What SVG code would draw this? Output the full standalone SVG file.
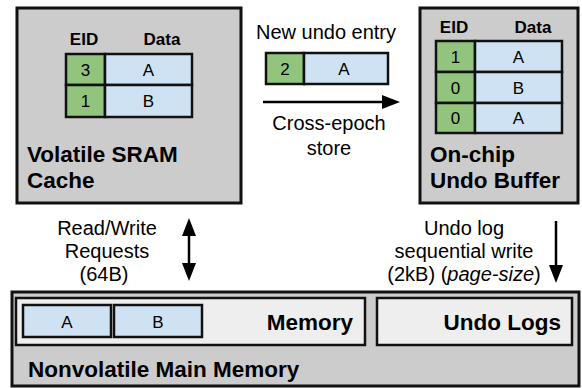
<svg xmlns="http://www.w3.org/2000/svg" width="582" height="388" viewBox="0 0 582 388">
  <defs>
    <style>
      text { font-family: "Liberation Sans", Arial, Helvetica, sans-serif; fill: #000; }
      .box { fill: #cccccc; stroke: #111; stroke-width: 3; }
      .inner { fill: #eeeeee; stroke: #111; stroke-width: 2.5; }
      .eid { fill: #93c47d; stroke: #111; stroke-width: 2.5; }
      .dat { fill: #cfe2f3; stroke: #111; stroke-width: 2.5; }
      .title { font-size: 22.5px; font-weight: bold; }
      .hdr { font-size: 17px; font-weight: bold; text-anchor: middle; }
      .cell { font-size: 17px; text-anchor: middle; }
      .lbl { font-size: 20px; text-anchor: middle; }
      .conn { stroke: #000; stroke-width: 2.5; fill: none; }
      .head { fill: #000; stroke: none; }
    </style>
    <path id="ah" d="M0,0 L-18,-7 L-18,7 Z"/>
  </defs>

  <g id="sram-cache">
    <rect class="box" x="17" y="8" width="224" height="195"/>
    <text class="hdr" x="84" y="45">EID</text>
    <text class="hdr" x="162" y="45">Data</text>
    <rect class="eid" x="66" y="54" width="39" height="31"/>
    <rect class="dat" x="105" y="54" width="87" height="31"/>
    <rect class="eid" x="66" y="85" width="39" height="32"/>
    <rect class="dat" x="105" y="85" width="87" height="32"/>
    <text class="cell" x="85.5" y="76">3</text>
    <text class="cell" x="148.5" y="76">A</text>
    <text class="cell" x="85.5" y="107">1</text>
    <text class="cell" x="148.5" y="107">B</text>
    <text class="title" x="27" y="162">Volatile SRAM</text>
    <text class="title" x="27" y="188">Cache</text>
  </g>

  <g id="new-undo-entry">
    <text class="lbl" x="326" y="39">New undo entry</text>
    <rect class="eid" x="266" y="53" width="38" height="31"/>
    <rect class="dat" x="304" y="53" width="84" height="31"/>
    <text class="cell" x="285" y="75">2</text>
    <text class="cell" x="344" y="75">A</text>
  </g>

  <g id="undo-buffer">
    <rect class="box" x="420" y="8" width="158" height="195"/>
    <text class="hdr" x="454" y="33">EID</text>
    <text class="hdr" x="533" y="33">Data</text>
    <rect class="eid" x="436" y="41" width="39" height="31"/>
    <rect class="dat" x="475" y="41" width="87" height="31"/>
    <rect class="eid" x="436" y="72" width="39" height="31"/>
    <rect class="dat" x="475" y="72" width="87" height="31"/>
    <rect class="eid" x="436" y="103" width="39" height="30"/>
    <rect class="dat" x="475" y="103" width="87" height="30"/>
    <text class="cell" x="455.5" y="63">1</text>
    <text class="cell" x="518.5" y="63">A</text>
    <text class="cell" x="455.5" y="94">0</text>
    <text class="cell" x="518.5" y="94">B</text>
    <text class="cell" x="455.5" y="124">0</text>
    <text class="cell" x="518.5" y="124">A</text>
    <text class="title" x="430" y="162">On-chip</text>
    <text class="title" x="430" y="188">Undo Buffer</text>
  </g>

  <g id="nonvolatile-main-memory">
    <rect class="box" x="12" y="292" width="567" height="94" stroke-width="3.5"/>
    <g id="memory">
      <rect class="inner" x="16" y="298" width="349" height="47"/>
      <rect class="dat" x="23" y="305" width="88" height="32"/>
      <rect class="dat" x="114" y="305" width="88" height="32"/>
      <text class="cell" x="67" y="328">A</text>
      <text class="cell" x="158" y="328">B</text>
      <text class="title" x="353" y="330" text-anchor="end">Memory</text>
    </g>
    <g id="undo-logs">
      <rect class="inner" x="377" y="298" width="195" height="47"/>
      <text class="title" x="561" y="330" text-anchor="end">Undo Logs</text>
    </g>
    <text class="title" x="28" y="377">Nonvolatile Main Memory</text>
  </g>

  <g id="connectors">
    <line class="conn" x1="263" y1="102" x2="386" y2="102"/>
    <use href="#ah" class="head" transform="translate(400,102)"/>
    <line class="conn" x1="189" y1="232" x2="189" y2="267"/>
    <use href="#ah" class="head" transform="translate(189,218) rotate(-90)"/>
    <use href="#ah" class="head" transform="translate(189,281) rotate(90)"/>
    <line class="conn" x1="556" y1="221" x2="556" y2="269"/>
    <use href="#ah" class="head" transform="translate(556,283) rotate(90)"/>
  </g>

  <g id="labels">
    <text class="lbl" x="329" y="130">Cross-epoch</text>
    <text class="lbl" x="329" y="155">store</text>
    <text class="lbl" x="107" y="235">Read/Write</text>
    <text class="lbl" x="107" y="258">Requests</text>
    <text class="lbl" x="104" y="281">(64B)</text>
    <text class="lbl" x="464" y="235">Undo log</text>
    <text class="lbl" x="464" y="258">sequential write</text>
    <text class="lbl" x="464" y="281">(2kB) (<tspan font-style="italic">page-size</tspan>)</text>
  </g>
</svg>
